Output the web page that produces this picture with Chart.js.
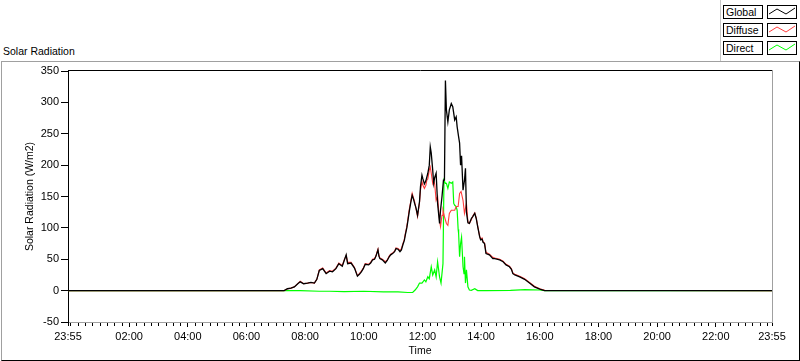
<!DOCTYPE html>
<html>
<head>
<meta charset="utf-8">
<script src="https://cdn.jsdelivr.net/npm/chart.js@4.4.1/dist/chart.umd.min.js"></script>
<style>
  html,body{margin:0;padding:0;background:#fff;}
  #wrap{position:relative;width:800px;height:361px;overflow:hidden;background:#fff;font-family:"Liberation Sans",Arial,sans-serif;color:#000;}
  #frame{position:absolute;left:1px;top:61px;width:797px;height:298px;border-top:1px solid #a0a0a0;border-left:1px solid #a0a0a0;border-right:1px solid #000;border-bottom:1px solid #000;}
  #title{position:absolute;left:3px;top:45px;font-size:10.5px;line-height:13px;white-space:nowrap;}
  #lgsep{position:absolute;left:720px;top:0;width:1px;height:61px;background:#c8c8c8;}
  .lgl{position:absolute;left:723px;width:38px;height:12px;border:1px solid #000;background:#fff;font-size:10.5px;line-height:12px;padding-left:0;}
  .lgl span{position:absolute;left:2px;top:0;}
  .lgs{position:absolute;left:767px;width:28px;height:12px;border:1px solid #000;background:#fff;}
  .lgs svg{position:absolute;left:0;top:0;}
  canvas{position:absolute;left:0;top:0;}
</style>
</head>
<body>
<div id="wrap">
  <div id="frame"></div>
  <div id="title">Solar Radiation</div>
  <div id="lgsep"></div>
  <div id="legend"></div>
  <canvas id="c" width="800" height="361"></canvas>
</div>
<script>
// ---- data (minutes since midnight; -5 = 23:55 previous day) ----
const SERIES_NAMES = ['Global', 'Diffuse', 'Direct'];
const SERIES_COLORS = ['#000000', '#ff3b3b', '#00ff00'];

const GLOBAL = [[-5,0],[437,0],[444,3],[451,4],[458,6],[465,11],[470,14],[477,11],[485,12],[492,13],[499,12],[504,18],[509,32],[516,35],[523,27],[530,31],[536,30],[543,35],[549,43],[556,39],[560,48],[564,57],[567,43],[574,44],[581,36],[587,23],[591,26],[595,30],[599,35],[603,42],[610,41],[614,44],[618,49],[622,50],[625,55],[629,65],[631,55],[633,51],[638,49],[644,44],[648,48],[652,54],[655,57],[659,59],[663,62],[666,67],[670,66],[674,62],[677,65],[680,73],[683,80],[685,89],[688,100],[690,110],[693,126],[696,140],[699,152],[702,145],[704,139],[707,131],[710,120],[714,142],[716,166],[719,184],[721,178],[724,170],[727,175],[731,187],[734,200],[736,229],[738,219],[741,192],[743,171],[745,180],[748,187],[751,139],[755,107],[757,128],[760,150],[763,176],[765,176],[767,335],[769,288],[772,269],[775,288],[779,298],[782,293],[786,272],[789,277],[791,261],[794,245],[796,235],[798,200],[800,215],[803,160],[806,176],[808,195],[810,125],[813,108],[816,107],[820,115],[823,118],[827,123],[830,115],[833,102],[837,86],[839,81],[842,82],[844,77],[847,75],[850,59],[857,57],[864,51],[868,51],[878,49],[885,46],[891,41],[898,38],[902,34],[905,27],[909,25],[919,22],[929,18],[939,12],[949,6],[960,2.5],[970,0],[1435,0]];

const DIFFUSE = [[-5,0],[437,0],[444,3],[451,4],[458,6],[465,11],[470,15],[477,11],[485,12],[492,13],[499,12],[504,18],[509,33],[516,36],[523,28],[530,32],[536,31],[543,36],[549,44],[556,40],[560,49],[564,56],[567,45],[574,45],[581,37],[587,24],[591,27],[595,31],[599,36],[603,43],[610,42],[614,45],[618,50],[622,51],[625,56],[629,66],[631,56],[633,52],[638,50],[644,46],[648,49],[652,55],[655,58],[659,60],[663,63],[666,68],[670,67],[674,64],[677,67],[680,75],[683,82],[685,91],[688,102],[690,113],[693,129],[696,142],[699,155],[702,147],[704,142],[707,130],[710,118],[714,140],[716,160],[719,174],[721,168],[724,163],[727,168],[729,176],[731,178],[734,192],[736,197],[738,187],[741,171],[743,176],[745,170],[748,144],[751,150],[753,130],[755,112],[757,102],[760,120],[762,128],[765,118],[769,107],[772,104],[775,123],[779,128],[782,128],[786,128],[789,134],[793,134],[796,155],[799,158],[803,144],[806,123],[810,139],[813,110],[816,107],[820,113],[823,119],[827,124],[830,116],[833,103],[837,87],[839,82],[842,84],[844,78],[847,76],[850,61],[857,58],[864,53],[868,52],[878,50],[885,47],[891,42],[898,39],[902,35],[905,28],[909,26],[919,23],[929,19],[939,13],[949,7],[960,3],[970,0.5],[1435,0]];

const DIRECT = [[-5,0],[437,0],[470,0],[509,-1],[530,-1],[560,-1.5],[600,-1],[640,-2],[670,-2],[690,-3],[700,-3],[705,1],[710,6],[714,12],[719,12],[724,17],[727,14],[731,22],[734,19],[738,38],[741,25],[745,33],[748,22],[751,46],[755,22],[758,12],[762,43],[764,176],[767,171],[769,171],[772,163],[775,173],[779,171],[782,173],[784,139],[786,136],[789,134],[791,128],[793,98],[794,91],[796,54],[798,75],[800,85],[803,38],[805,27],[806,54],[808,12],[810,33],[813,6],[816,1],[820,0.5],[827,3],[833,0],[850,0],[900,0.5],[930,1.5],[960,1],[970,0],[1435,0]];

// ---- axes ----
const X_MIN = -5, X_MAX = 1435;
const X_MAJOR = [-5,120,240,360,480,600,720,840,960,1080,1200,1320,1435];
const X_LABELS = ['23:55','02:00','04:00','06:00','08:00','10:00','12:00','14:00','16:00','18:00','20:00','22:00','23:55'];
const X_MINOR_STEP = 15;
const Y_MIN = -50, Y_MAX = 350, Y_STEP = 50;

// ---- legend (HTML) ----
const legend = document.getElementById('legend');
SERIES_NAMES.forEach((n, i) => {
  const top = 5 + i * 18;
  const l = document.createElement('div');
  l.className = 'lgl'; l.style.top = top + 'px';
  l.innerHTML = '<span>' + n + '</span>';
  legend.appendChild(l);
  const s = document.createElement('div');
  s.className = 'lgs'; s.style.top = top + 'px';
  s.innerHTML = '<svg width="28" height="12"><polyline points="1,8 9,3 18,8 27,2" fill="none" stroke="' + SERIES_COLORS[i] + '" stroke-width="1"/></svg>';
  legend.appendChild(s);
});

const FONT = {family: '"Liberation Sans", Arial, sans-serif', size: 11};
const FONT_T = {family: '"Liberation Sans", Arial, sans-serif', size: 10.5};

const framePlugin = {
  id: 'frameLines',
  afterDraw(chart) {
    const {ctx, chartArea: a} = chart;
    const xs = chart.scales.x;
    ctx.save();
    ctx.lineWidth = 1;
    ctx.strokeStyle = '#000';
    ctx.beginPath();
    ctx.moveTo(a.left, Math.round(a.top) - 0.5);
    ctx.lineTo(a.right + 1, Math.round(a.top) - 0.5);
    ctx.stroke();
    ctx.strokeStyle = '#a0a0a0';
    ctx.beginPath();
    ctx.moveTo(Math.round(a.right) + 0.5, a.top - 1);
    ctx.lineTo(Math.round(a.right) + 0.5, a.bottom + 1);
    ctx.stroke();
    ctx.strokeStyle = '#000';
    const minors = [X_MIN, X_MAX];
    for (let t = 0; t < X_MAX; t += X_MINOR_STEP) if (t === 0 || t % 120 !== 0) minors.push(t);
    ctx.beginPath();
    minors.forEach(t => {
      const px = Math.round(xs.getPixelForValue(t)) + 0.5;
      ctx.moveTo(px, a.bottom + 1);
      ctx.lineTo(px, a.bottom + 4);
    });
    ctx.stroke();
    ctx.restore();
  }
};

const mk = (arr) => arr.map(([x, y]) => ({x, y}));

new Chart(document.getElementById('c'), {
  type: 'line',
  data: {
    datasets: [
      {label: SERIES_NAMES[0], data: mk(GLOBAL), borderColor: SERIES_COLORS[0], borderWidth: 1.3, pointRadius: 0, tension: 0, fill: false},
      {label: SERIES_NAMES[1], data: mk(DIFFUSE), borderColor: SERIES_COLORS[1], borderWidth: 1.1, pointRadius: 0, tension: 0, fill: false},
      {label: SERIES_NAMES[2], data: mk(DIRECT), borderColor: SERIES_COLORS[2], borderWidth: 1.2, pointRadius: 0, tension: 0, fill: false}
    ]
  },
  options: {
    responsive: false,
    animation: false,
    events: [],
    layout: {padding: {left: 0, top: 71, right: 28, bottom: 0}},
    plugins: {legend: {display: false}, tooltip: {enabled: false}, title: {display: false}},
    scales: {
      x: {
        type: 'linear', min: X_MIN, max: X_MAX,
        afterBuildTicks: s => { s.ticks = X_MAJOR.map(v => ({value: v})); },
        afterFit: s => { s.height = 39; },
        ticks: {
          autoSkip: false, maxRotation: 0, minRotation: 0, padding: 3, color: '#000', font: FONT,
          callback: (v) => { const i = X_MAJOR.indexOf(v); return i >= 0 ? X_LABELS[i] : ''; }
        },
        grid: {
          drawOnChartArea: false, drawTicks: true, tickLength: 5,
          color: (c) => (c.tick && (c.tick.value === X_MIN || c.tick.value === X_MAX)) ? 'rgba(0,0,0,0)' : '#000'
        },
        border: {display: true, color: '#a0a0a0', width: 1},
        title: {display: true, text: 'Time', color: '#000', font: FONT_T, padding: {top: 0, bottom: 4}}
      },
      y: {
        type: 'linear', min: Y_MIN, max: Y_MAX,
        afterFit: s => { s.width = 68; },
        ticks: {stepSize: Y_STEP, padding: 2, color: '#000', font: FONT},
        grid: {drawOnChartArea: false, drawTicks: true, tickLength: 7, color: '#000'},
        border: {display: true, color: '#000', width: 1},
        title: {display: true, text: 'Solar Radiation (W/m2)', color: '#000', font: FONT_T, padding: {top: 24, bottom: 0}}
      }
    }
  },
  plugins: [framePlugin]
});
</script>
</body>
</html>
